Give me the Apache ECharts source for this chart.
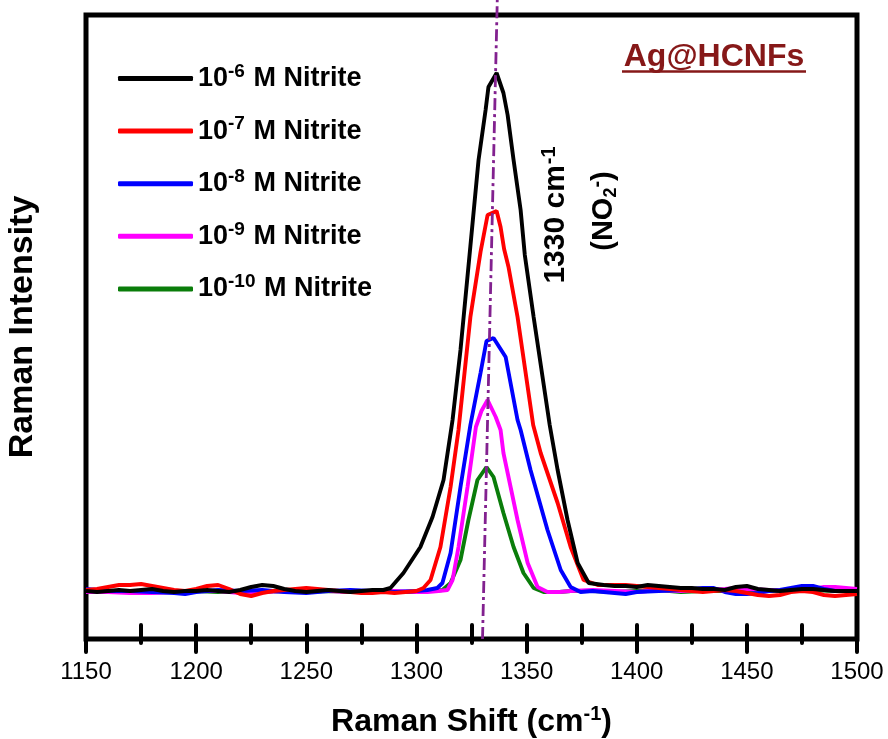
<!DOCTYPE html>
<html>
<head>
<meta charset="utf-8">
<script src="https://cdn.jsdelivr.net/npm/echarts@6/dist/echarts.min.js"></script>
<style>
html,body{margin:0;padding:0;background:#fff;}
#chart{width:888px;height:739px;}
</style>
</head>
<body>
<div id="chart"></div>
<script>
// ---- data (Raman shift cm-1, intensity a.u.) ----
const xTicks = [1150, 1200, 1250, 1300, 1350, 1400, 1450, 1500];
const seriesNames = ['1e-6', '1e-7', '1e-8', '1e-9', '1e-10'];
const exponents = ['-6', '-7', '-8', '-9', '-10'];
const seriesColors = ['#000000', '#ff0000', '#0000ff', '#ff00ff', '#0a7d0a'];

const black = [
  [1150,0],[1155,-10],[1160,0],[1165,10],[1170,0],[1175,10],[1180,20],[1185,0],[1190,-10],[1195,0],
  [1200,0],[1205,10],[1210,0],[1215,-10],[1220,10],[1225,40],[1230,60],[1235,50],[1240,20],[1245,0],
  [1250,-10],[1255,0],[1260,10],[1265,0],[1270,-10],[1275,0],[1280,10],[1285,10],
  [1288.2,30],[1294.1,180],[1301.8,440],[1307.3,740],[1312.3,1110],[1316.4,1710],[1320,2410],
  [1324.5,3450],[1328.2,4310],[1331.4,4810],[1332.7,5040],[1336.4,5180],[1339.5,4980],[1341.4,4760],
  [1344.1,4310],[1347.3,3810],[1349.2,3360],[1353.2,2740],[1360.5,1660],[1364.1,1210],[1368.6,710],
  [1373.2,280],[1378.2,80],
  [1385,60],[1390,50],[1395,50],[1400,40],[1405,60],[1410,50],[1415,40],[1420,30],[1425,30],[1430,20],
  [1435,20],[1440,10],[1445,40],[1450,50],[1455,20],[1460,10],[1465,0],[1470,10],[1475,20],[1480,20],
  [1485,10],[1490,0],[1495,0],[1500,0]
];
const red = [
  [1150,10],[1155,20],[1160,40],[1165,60],[1170,60],[1175,70],[1180,50],[1185,30],[1190,10],[1195,0],
  [1200,20],[1205,50],[1210,60],[1215,20],[1220,-30],[1225,-50],[1230,-20],[1235,0],[1240,10],[1245,20],
  [1250,30],[1255,20],[1260,10],[1265,0],[1270,-10],[1275,-20],[1280,-20],[1285,-10],[1290,-20],[1295,-10],
  [1300,0],
  [1303.2,30],[1306.4,110],[1310.9,440],[1315.5,1040],[1319.1,1610],[1324.5,2740],[1329.1,3390],
  [1332.3,3760],[1336.4,3800],[1338.2,3640],[1339.8,3420],[1341.8,3240],[1345.9,2740],[1353,1660],
  [1356.4,1380],[1364.1,880],[1370,440],[1375.9,110],[1382.3,60],
  [1385,60],[1390,60],[1395,60],[1400,50],[1405,40],[1410,30],[1415,20],[1420,10],[1425,0],[1430,-10],
  [1435,0],[1440,10],[1445,0],[1450,-20],[1455,-40],[1460,-50],[1465,-40],[1470,-10],[1475,0],[1480,-10],
  [1485,-40],[1490,-50],[1495,-40],[1500,-30]
];
const blue = [
  [1150,20],[1155,10],[1160,0],[1170,0],[1180,-10],[1190,-20],[1195,-30],[1200,-10],[1210,10],[1220,0],
  [1230,10],[1240,-10],[1250,-20],[1260,0],[1270,10],[1280,0],[1290,-10],[1300,0],[1305,10],
  [1309.5,30],[1311.8,80],[1315.5,380],[1320,1040],[1324.5,1660],[1329.1,2180],[1331.8,2500],
  [1335,2530],[1340.5,2340],[1345.9,1710],[1347.3,1610],[1351.8,1210],[1359.5,610],[1365.5,210],
  [1370,40],[1374.5,-10],
  [1380,0],[1385,-10],[1390,-20],[1395,-30],[1400,-10],[1410,0],[1420,10],[1430,30],[1435,30],[1440,-10],
  [1445,-30],[1450,-30],[1455,-20],[1460,0],[1465,10],[1470,30],[1475,50],[1480,50],[1485,20],[1490,0],
  [1500,0]
];
const magenta = [
  [1150,-10],[1160,-10],[1170,-20],[1180,-20],[1190,-10],[1200,0],[1210,0],[1220,-20],[1230,-10],[1240,0],
  [1250,10],[1260,0],[1270,-10],[1280,0],[1290,0],[1300,-10],[1305,-10],[1310,0],
  [1314.1,10],[1316.4,110],[1319.1,440],[1323.2,1040],[1327,1640],[1329.5,1800],[1332.3,1910],
  [1336,1740],[1338.2,1610],[1339.5,1380],[1345.9,710],[1350.5,280],[1355,40],[1359.5,-10],
  [1365,-10],[1370,0],[1380,10],[1390,0],[1400,-10],[1410,10],[1420,0],[1430,10],[1440,20],[1445,30],
  [1450,20],[1460,10],[1470,0],[1480,20],[1485,40],[1490,40],[1495,30],[1500,20]
];
const green = [
  [1150,0],[1160,0],[1170,-10],[1180,0],[1190,-10],[1200,0],[1210,-10],[1220,0],[1230,-10],[1240,0],
  [1250,-10],[1260,0],[1270,-10],[1280,0],[1290,-10],[1300,-10],[1305,0],[1308,0],
  [1311.8,10],[1315.5,80],[1320,310],[1323.6,710],[1327.7,1110],[1331.8,1240],[1335,1140],
  [1339.5,780],[1344.1,440],[1348.6,180],[1353.2,30],[1357.7,-10],
  [1365,-10],[1370,0],[1375,0],[1380,0],[1390,-10],[1400,0],[1410,10],[1420,-10],[1430,0],[1440,0],
  [1450,10],[1460,0],[1470,0],[1480,10],[1490,0],[1500,0]
];
const allData = [black, red, blue, magenta, green];
// reference line for the 1330 cm-1 band (drawn slightly tilted as in the figure)
const bandLine = [[1330, -480], [1336.7, 5910]];

const FONT = "'Liberation Sans', Arial, sans-serif";
const chart = echarts.init(document.getElementById('chart'), null, {renderer: 'canvas'});

const lineSeries = seriesNames.map((n, i) => ({
  name: n,
  type: 'line',
  data: allData[i],
  showSymbol: false,
  symbol: 'none',
  smooth: false,
  z: 10 - i,
  lineStyle: {color: seriesColors[i], width: 3.9},
  itemStyle: {color: seriesColors[i]}
}));

lineSeries.push({
  name: 'band',
  type: 'line',
  data: bandLine,
  showSymbol: false,
  symbol: 'none',
  clip: false,
  z: 20,
  lineStyle: {color: '#82218f', width: 2.8, type: [12, 4, 3, 4]}
});

const option = {
  animation: false,
  backgroundColor: '#ffffff',
  grid: {left: 86, right: 31, top: 15, bottom: 100, show: true, borderColor: '#000', borderWidth: 5,
    backgroundColor: 'transparent', containLabel: false, outerBoundsMode: 'none'},
  legend: {
    data: seriesNames,
    orient: 'vertical',
    left: 118,
    top: 62,
    padding: 0,
    itemWidth: 75,
    itemHeight: 5,
    itemGap: 19.6,
    icon: 'roundRect',
    formatter: function (name) {
      const i = seriesNames.indexOf(name);
      return '{b|10}{sup|' + exponents[i] + '}{b| M Nitrite}';
    },
    textStyle: {
      fontFamily: FONT, fontSize: 27, fontWeight: 'bold', color: '#000',
      rich: {
        b: {fontFamily: FONT, fontSize: 27, fontWeight: 'bold', color: '#000', lineHeight: 30},
        sup: {fontFamily: FONT, fontSize: 19, fontWeight: 'bold', color: '#000', lineHeight: 16, padding: [0, 1, 14, 0]}
      }
    }
  },
  xAxis: {
    type: 'value', min: 1150, max: 1500, interval: 50, position: 'bottom',
    offset: -14,
    axisLine: {show: false, onZero: false},
    axisTick: {show: true, inside: false, length: 27, lineStyle: {color: '#000', width: 4, cap: 'round'}},
    minorTick: {show: true, splitNumber: 2, length: 18, lineStyle: {color: '#000', width: 4, cap: 'round'}},
    splitLine: {show: false},
    axisLabel: {show: true, margin: 35, fontFamily: FONT, fontSize: 24, color: '#000',
      formatter: function (v) { return String(v); }},
    name: '{b|Raman Shift (cm}{sup|-1}{b|)}',
    nameLocation: 'middle',
    nameGap: 79,
    nameTextStyle: {
      fontFamily: FONT, fontSize: 32, fontWeight: 'bold', color: '#000',
      rich: {
        b: {fontFamily: FONT, fontSize: 32, fontWeight: 'bold', color: '#000', lineHeight: 36},
        sup: {fontFamily: FONT, fontSize: 20, fontWeight: 'bold', color: '#000', lineHeight: 20, padding: [0, 0, 16, 0]}
      }
    }
  },
  yAxis: {
    type: 'value', min: -480, max: 5760,
    axisLine: {show: false},
    axisTick: {show: false},
    axisLabel: {show: false},
    splitLine: {show: false},
    name: 'Raman Intensity',
    nameLocation: 'middle',
    nameGap: 46,
    nameTextStyle: {fontFamily: FONT, fontSize: 34, fontWeight: 'bold', color: '#000'}
  },
  graphic: [
    {
      type: 'text', x: 556, y: 215, rotation: Math.PI / 2, z: 100,
      style: {
        text: '{b|1330 cm}{sup|-1}',
        align: 'center', verticalAlign: 'middle',
        rich: {
          b: {fontFamily: FONT, fontSize: 30, fontWeight: 'bold', fill: '#000', lineHeight: 34},
          sup: {fontFamily: FONT, fontSize: 20, fontWeight: 'bold', fill: '#000', lineHeight: 20, padding: [0, 0, 14, 1]}
        }
      }
    },
    {
      type: 'text', x: 604, y: 211, rotation: Math.PI / 2, z: 100,
      style: {
        text: '{b|(NO}{sub|2}{sup|-}{b|)}',
        align: 'center', verticalAlign: 'middle',
        rich: {
          b: {fontFamily: FONT, fontSize: 29, fontWeight: 'bold', fill: '#000', lineHeight: 32},
          sub: {fontFamily: FONT, fontSize: 18, fontWeight: 'bold', fill: '#000', lineHeight: 18, padding: [14, 0, 0, 0]},
          sup: {fontFamily: FONT, fontSize: 20, fontWeight: 'bold', fill: '#000', lineHeight: 20, padding: [0, 0, 14, 0]}
        }
      }
    },
    {
      type: 'text', x: 714, y: 57, z: 100,
      style: {
        text: 'Ag@HCNFs', fontFamily: FONT, fontSize: 32, fontWeight: 'bold', fill: '#861818',
        align: 'center', verticalAlign: 'middle'
      }
    },
    {
      type: 'line', z: 100,
      shape: {x1: 622, y1: 71.5, x2: 806, y2: 71.5},
      style: {stroke: '#861818', lineWidth: 2.6}
    }
  ],
  series: lineSeries
};
chart.setOption(option);
</script>
</body>
</html>
